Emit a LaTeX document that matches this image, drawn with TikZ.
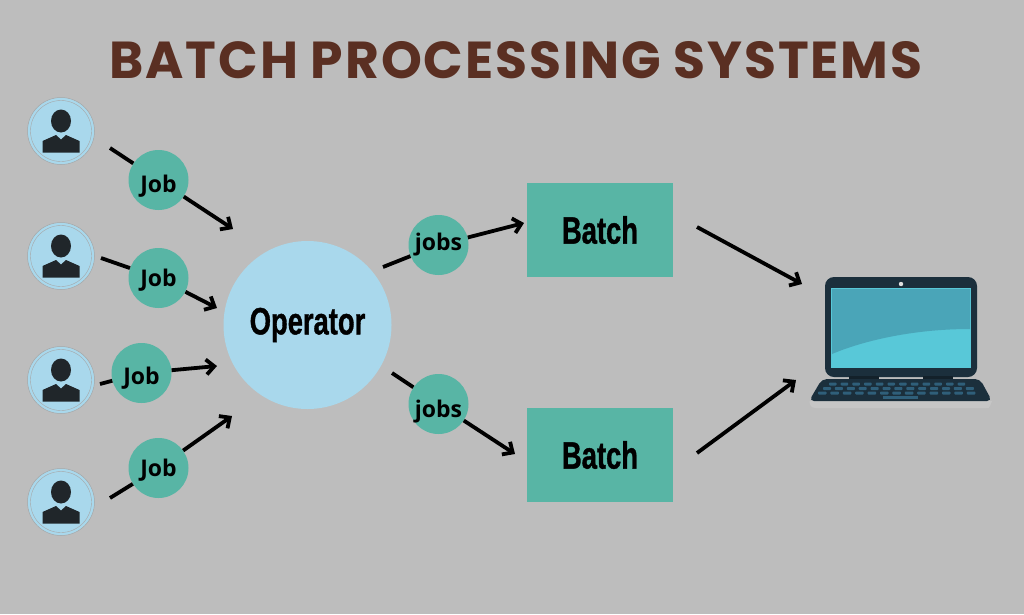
\documentclass[tikz,border=0pt]{standalone}
\usepackage{fontspec}
\usetikzlibrary{arrows.meta}
\setmainfont{Liberation Sans}
\newfontfamily\titlefont[LetterSpace=3.6]{Poppins}
\newfontfamily\jobfont{Open Sans}
\newfontfamily\heavyfont[FakeBold=1.2]{Liberation Sans Bold}
\definecolor{bggray}{HTML}{BDBDBD}
\definecolor{titlebrown}{HTML}{5A2F22}
\definecolor{jobgreen}{HTML}{58B5A5}
\definecolor{opblue}{HTML}{A9D8EC}
\definecolor{iconblack}{HTML}{20262A}
\definecolor{lidnavy}{HTML}{1B2F3C}
\definecolor{keyblue}{HTML}{2F5F7A}
\definecolor{screenlow}{HTML}{58C8D8}
\definecolor{screenhigh}{HTML}{4AA5B8}
\tikzset{
  jobnode/.style={circle,fill=jobgreen,minimum size=60pt,inner sep=0pt,text height=20pt,text depth=0pt,font=\jobfont\bfseries\fontsize{23}{23}\selectfont},
  batchnode/.style={rectangle,fill=jobgreen,minimum width=146pt,minimum height=94pt,inner sep=0pt,font=\heavyfont\fontsize{38}{38}\selectfont},
  opnode/.style={circle,fill=opblue,minimum size=168pt,inner sep=0pt,font=\heavyfont\fontsize{38}{38}\selectfont},
  usernode/.style={circle,fill=opblue,draw=gray!70,line width=0.5pt,minimum size=67pt,inner sep=0pt},
  flow/.style={line width=3.8pt,black,-{Straight Barb[length=8pt,width=15pt,line width=3.8pt]}},
  plain/.style={line width=3.8pt,black},
  pics/usericon/.style={code={
    \draw[gray!70,line width=0.4pt] (0,0) circle (30.5);
    \fill[iconblack] (0,-10) ellipse (10 and 11.5);
    \fill[iconblack] (-18.5,21.7) -- (-18.5,10) -- (-5,4) -- (0,8.5) -- (5,4) -- (18.5,10) -- (18.5,21.7) -- cycle;
  }}
}
\newcommand{\narrow}[1]{\scalebox{0.72}[1]{#1}}

\begin{document}
\begin{tikzpicture}[x=1pt,y=-1pt]
  \fill[bggray] (0,0) rectangle (1024,614);
  \useasboundingbox (0,0) rectangle (1024,614);

  \node[text=titlebrown,font=\titlefont\bfseries\fontsize{52}{52}\selectfont] (title) at (516,60.5) {BATCH PROCESSING SYSTEMS};

  % people on the left
  \foreach \name/\y in {user1/131,user2/256,user3/380,user4/502} {
    \node[usernode] (\name) at (61,\y) {};
    \pic at (\name) {usericon};
  }

  \node[opnode] (operator) at (307.5,325) {\narrow{Operator}};
  \node[jobnode,text height=24pt] (job1) at (158.5,180) {Job};
  \node[jobnode,text height=16pt] (job2) at (158.5,278) {Job};
  \node[jobnode,text height=22pt] (job3) at (141.5,373) {Job};
  \node[jobnode,text height=16pt] (job4) at (158.5,468) {Job};
  \node[jobnode,text height=10pt] (jobs1) at (438.5,245) {jobs};
  \node[jobnode,text height=26pt] (jobs2) at (438.5,404) {jobs};
  \node[batchnode] (batch1) at (600,230) {\narrow{Batch}};
  \node[batchnode] (batch2) at (600,455) {\narrow{Batch}};

  % loose ends of the arrows
  \coordinate (s1) at (110,148);
  \coordinate (s2) at (101,258);
  \coordinate (s3) at (100,384);
  \coordinate (s4) at (110,498);
  \coordinate (t1) at (233,229);
  \coordinate (t2) at (217,308);
  \coordinate (t3) at (217,366);
  \coordinate (t4) at (232,416);
  \coordinate (s5) at (383,267);
  \coordinate (s6) at (392,373);
  \coordinate (s7) at (697,227);
  \coordinate (s8) at (697,453);
  \coordinate (t5) at (524,223);
  \coordinate (t6) at (515,454);
  \coordinate (t7) at (802,284);
  \coordinate (t8) at (796,380);

  \foreach \i in {1,2,3,4} {
    \draw[plain] (s\i) -- (job\i);
    \draw[flow] (job\i) -- (t\i);
  }
  \draw[plain] (s5) -- (jobs1);
  \draw[flow] (jobs1) -- (t5);
  \draw[plain] (s6) -- (jobs2);
  \draw[flow] (jobs2) -- (t6);
  \draw[flow] (s7) -- (t7);
  \draw[flow] (s8) -- (t8);

  % laptop
  \fill[lidnavy,rounded corners=9pt] (825,277) rectangle (977,377);
  \fill[screenlow] (831,288) rectangle (971,368);
  \fill[screenhigh] (832,289) -- (970,289) -- (970,329) .. controls (910,329) and (860,342) .. (832,354) -- cycle;
  \fill[gray!25] (901,284) circle (2.2);
  \fill[lidnavy!70!black] (849,376) rectangle (879,380);
  \fill[lidnavy!70!black] (923,376) rectangle (953,380);
  \fill[gray!45] (809.5,401) -- (992,401) -- (990,406) .. controls (990,408) and (988,408) .. (986,408) -- (816,408) .. controls (811,408) and (809.5,405) .. (809.5,401) -- cycle;
  \fill[lidnavy,rounded corners=5pt] (809,401) -- (822,379) -- (980,379) -- (992,401) -- cycle;
  \foreach \k in {0,...,11} {
    \fill[keyblue,rounded corners=0.8pt] (829+11.7*\k,382.5) rectangle ++(7.5,3);
  }
  \foreach \k in {0,...,12} {
    \fill[keyblue,rounded corners=0.8pt] (823+11.9*\k,387) rectangle ++(8,3);
  }
  \foreach \k in {0,...,12} {
    \fill[keyblue,rounded corners=0.8pt] (818+12.4*\k,391.5) rectangle ++(8.5,3);
  }
  \fill[keyblue] (883,395.5) rectangle (918,398.5);
\end{tikzpicture}
\end{document}
